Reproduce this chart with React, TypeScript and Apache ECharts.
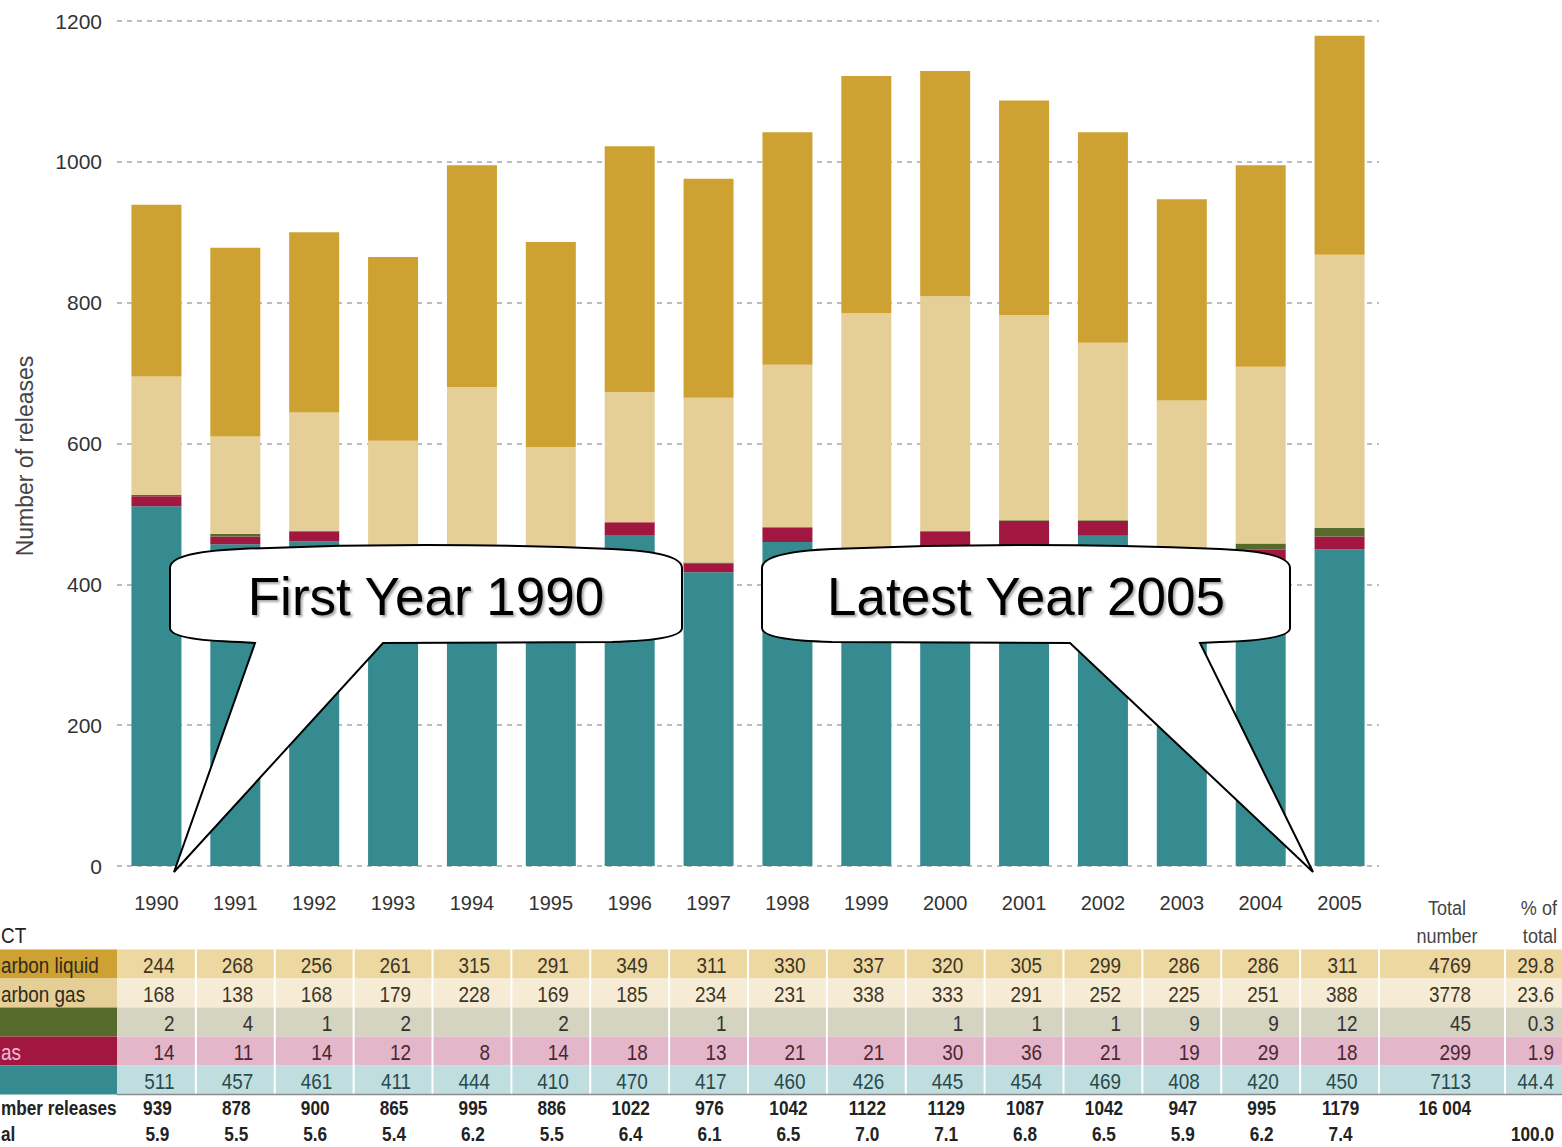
import React, { useEffect, useRef } from "react";
import * as echarts from "echarts";

const years = ["1990","1991","1992","1993","1994","1995","1996","1997","1998","1999","2000","2001","2002","2003","2004","2005"];
const hcLiquid = [244,268,256,261,315,291,349,311,330,337,320,305,299,286,286,311];
const hcGas = [168,138,168,179,228,169,185,234,231,338,333,291,252,225,251,388];
const greenSer = [2,4,1,2,null,2,null,1,null,null,1,1,1,9,9,12];
const crimsonSer = [14,11,14,12,8,14,18,13,21,21,30,36,21,19,29,18];
const tealSer = [511,457,461,411,444,410,470,417,460,426,445,454,469,408,420,450];
const yearTotals = [939,878,900,865,995,886,1022,976,1042,1122,1129,1087,1042,947,995,1179];
const yearPct = ["5.9","5.5","5.6","5.4","6.2","5.5","6.4","6.1","6.5","7.0","7.1","6.8","6.5","5.9","6.2","7.4"];
const rowTotals = ["4769","3778","45","299","7113"];
const rowPct = ["29.8","23.6","0.3","1.9","44.4"];
const rowLabels = ["arbon liquid","arbon gas","","as",""];
const grandTotal = "16 004";
const grandPct = "100.0";
const yTicks = [0, 200, 400, 600, 800, 1000, 1200];

const C_TEAL = "#358b8f";
const C_CRIMSON = "#a1173f";
const C_GREEN = "#566a2b";
const C_BEIGE = "#e5cf96";
const C_GOLD = "#cea232";

const FONT = "'Liberation Sans', Arial, sans-serif";
const NARROW = 0.86;

let registered = false;
function registerCallouts() {
  if (registered) return;
  registered = true;
  const d1 = "M170,628 L170,568 Q170,552 240,549 Q426,541 612,549 Q682,552 682,568 L682,628 Q682,640 612,642 L383,643 L174,872 L255,643 L240,642 Q170,640 170,628 Z";
  const d2 = "M762,628 L762,568 Q762,552 832,549 Q1026,541 1220,549 Q1290,552 1290,568 L1290,628 Q1290,640 1220,642 L1200,643 L1313,872 L1070,643 L832,642 Q762,640 762,628 Z";
  echarts.graphic.registerShape("calloutFirst", echarts.graphic.extendPath(d1, {}));
  echarts.graphic.registerShape("calloutLatest", echarts.graphic.extendPath(d2, {}));
}

export default function App() {
  const ref = useRef<HTMLDivElement>(null);
  useEffect(() => {
    registerCallouts();
    const chart = echarts.init(ref.current!, null, { renderer: "svg" });
    const mk = (name: string, data: (number | null)[], color: string) => ({
      name, type: "bar", stack: "total", data, barWidth: 50,
      itemStyle: { color }, emphasis: { disabled: true },
    });
    const option: any = {
      animation: false,
      backgroundColor: "#ffffff",
      grid: { left: 117, right: 183, top: 21, bottom: 281, containLabel: false },
      xAxis: {
        type: "category", data: years,
        axisLine: { show: false }, axisTick: { show: false },
        axisLabel: { color: "#333", fontSize: 20, fontFamily: FONT, margin: 27 },
      },
      yAxis: {
        type: "value", min: yTicks[0], max: yTicks[yTicks.length - 1], interval: 200,
        axisLine: { show: false }, axisTick: { show: false },
        axisLabel: { color: "#333", fontSize: 21, fontFamily: FONT, margin: 15, formatter: (v: number) => String(v) },
        splitLine: { show: true, lineStyle: { color: "#a8a8a8", width: 1.5, type: [5, 5] } },
      },
      series: [
        mk("Teal", tealSer, C_TEAL),
        mk("Crimson", crimsonSer, C_CRIMSON),
        mk("Green", greenSer, C_GREEN),
        mk("Hydrocarbon gas", hcGas, C_BEIGE),
        mk("Hydrocarbon liquid", hcLiquid, C_GOLD),
      ],
    };
    chart.setOption(option);

    const xs = years.map((y) => chart.convertToPixel({ xAxisIndex: 0 }, y) as number);
    const step = xs[1] - xs[0];
    const left = xs[0] - step / 2;
    const lastRight = xs[xs.length - 1] + step / 2;
    const pctSep = 1505;
    const rowTop = 949.5;
    const rowH = 29;
    const labelBg = [C_GOLD, C_BEIGE, C_GREEN, C_CRIMSON, C_TEAL];
    const bandBg = ["#ecd8a0", "#f6ecd6", "#d4d4c1", "#e3b6c9", "#c0dee0"];
    const txtCol = ["#3d3525", "#3d3525", "#333", "#4d2535", "#294a4c"];
    const rows = [hcLiquid, hcGas, greenSer, crimsonSer, tealSer];
    const g: any[] = [];

    const ntext = (text: string, x: number, y: number, align: string, opts: any = {}) => ({
      type: "group", x, y, scaleX: NARROW, z: 3,
      children: [{ type: "text", z: 3, x: 0, y: 0, style: { text, fontSize: 21, fontFamily: FONT, fill: "#222", align, verticalAlign: "middle", ...opts } }],
    });

    rows.forEach((r, ri) => {
      const y0 = rowTop + ri * rowH;
      const yc = y0 + rowH / 2 + 1;
      g.push({ type: "rect", z: 1, shape: { x: 0, y: y0, width: left, height: rowH }, style: { fill: labelBg[ri] } });
      g.push({ type: "rect", z: 1, shape: { x: left, y: y0, width: 1562 - left, height: rowH }, style: { fill: bandBg[ri] } });
      if (rowLabels[ri]) {
        g.push(ntext(rowLabels[ri], 1, yc, "left", { fontSize: 22, fill: ri === 3 ? "#f2bcd6" : "#2e2a20" }));
      }
      r.forEach((v, i) => {
        if (v === null || v === undefined) return;
        g.push(ntext(String(v), xs[i] + 18, yc, "right", { fontSize: 22, fill: txtCol[ri] }));
      });
      g.push(ntext(rowTotals[ri], 1471, yc, "right", { fontSize: 22, fill: txtCol[ri] }));
      g.push(ntext(rowPct[ri], 1554, yc, "right", { fontSize: 22, fill: txtCol[ri] }));
    });
    const tableBottom = rowTop + rows.length * rowH;
    const seps: number[] = [];
    for (let i = 1; i < xs.length; i++) seps.push((xs[i - 1] + xs[i]) / 2);
    seps.push(lastRight, pctSep);
    seps.forEach((sx) => {
      g.push({ type: "line", z: 2, shape: { x1: sx, y1: rowTop, x2: sx, y2: tableBottom }, style: { stroke: "#ffffff", lineWidth: 2 } });
    });
    g.push({ type: "line", z: 2, shape: { x1: left, y1: tableBottom, x2: 1562, y2: tableBottom }, style: { stroke: "#8a8a8a", lineWidth: 1.5 } });

    // header texts
    g.push(ntext("CT", 1, 935, "left", { fontSize: 22 }));
    g.push(ntext("Total", 1447, 907, "center", { fontSize: 21, fill: "#444" }));
    g.push(ntext("number", 1447, 935, "center", { fontSize: 21, fill: "#444" }));
    g.push(ntext("% of", 1557, 907, "right", { fontSize: 21, fill: "#444" }));
    g.push(ntext("total", 1557, 935, "right", { fontSize: 21, fill: "#444" }));

    // totals rows
    const bold = { fontSize: 20, fontWeight: "bold", fill: "#222" };
    g.push(ntext("mber releases", 1, 1108, "left", bold));
    g.push(ntext("al", 1, 1134, "left", bold));
    yearTotals.forEach((v, i) => {
      g.push(ntext(String(v), xs[i] + 1, 1108, "center", bold));
      g.push(ntext(yearPct[i], xs[i] + 1, 1134, "center", bold));
    });
    g.push(ntext(grandTotal, 1471, 1108, "right", bold));
    g.push(ntext(grandPct, 1554, 1134, "right", bold));

    // y-axis title
    g.push({ type: "text", z: 3, x: 25, y: 456, rotation: Math.PI / 2,
      style: { text: "Number of releases", fontSize: 23, fontFamily: FONT, fill: "#444", align: "center", verticalAlign: "middle" } });

    // callouts
    g.push({ type: "calloutFirst", z: 10, x: 0, y: 0, style: { fill: "#ffffff", stroke: "#000000", lineWidth: 2 } });
    g.push({ type: "calloutLatest", z: 10, x: 0, y: 0, style: { fill: "#ffffff", stroke: "#000000", lineWidth: 2 } });
    const calloutText = (text: string, cx: number) => ({
      type: "text", z: 11, x: cx, y: 596,
      style: { text, fontSize: 53, fontFamily: FONT, fill: "#000", align: "center", verticalAlign: "middle",
        textShadowColor: "rgba(0,0,0,0.35)", textShadowOffsetX: 2, textShadowOffsetY: 2, textShadowBlur: 2 },
    });
    g.push(calloutText("First Year 1990", 426));
    g.push(calloutText("Latest Year 2005", 1026));

    chart.setOption({ graphic: g });
    return () => chart.dispose();
  }, []);
  return <div ref={ref} style={{ position: "absolute", left: 0, top: 0, width: 1562, height: 1147 }} />;
}
